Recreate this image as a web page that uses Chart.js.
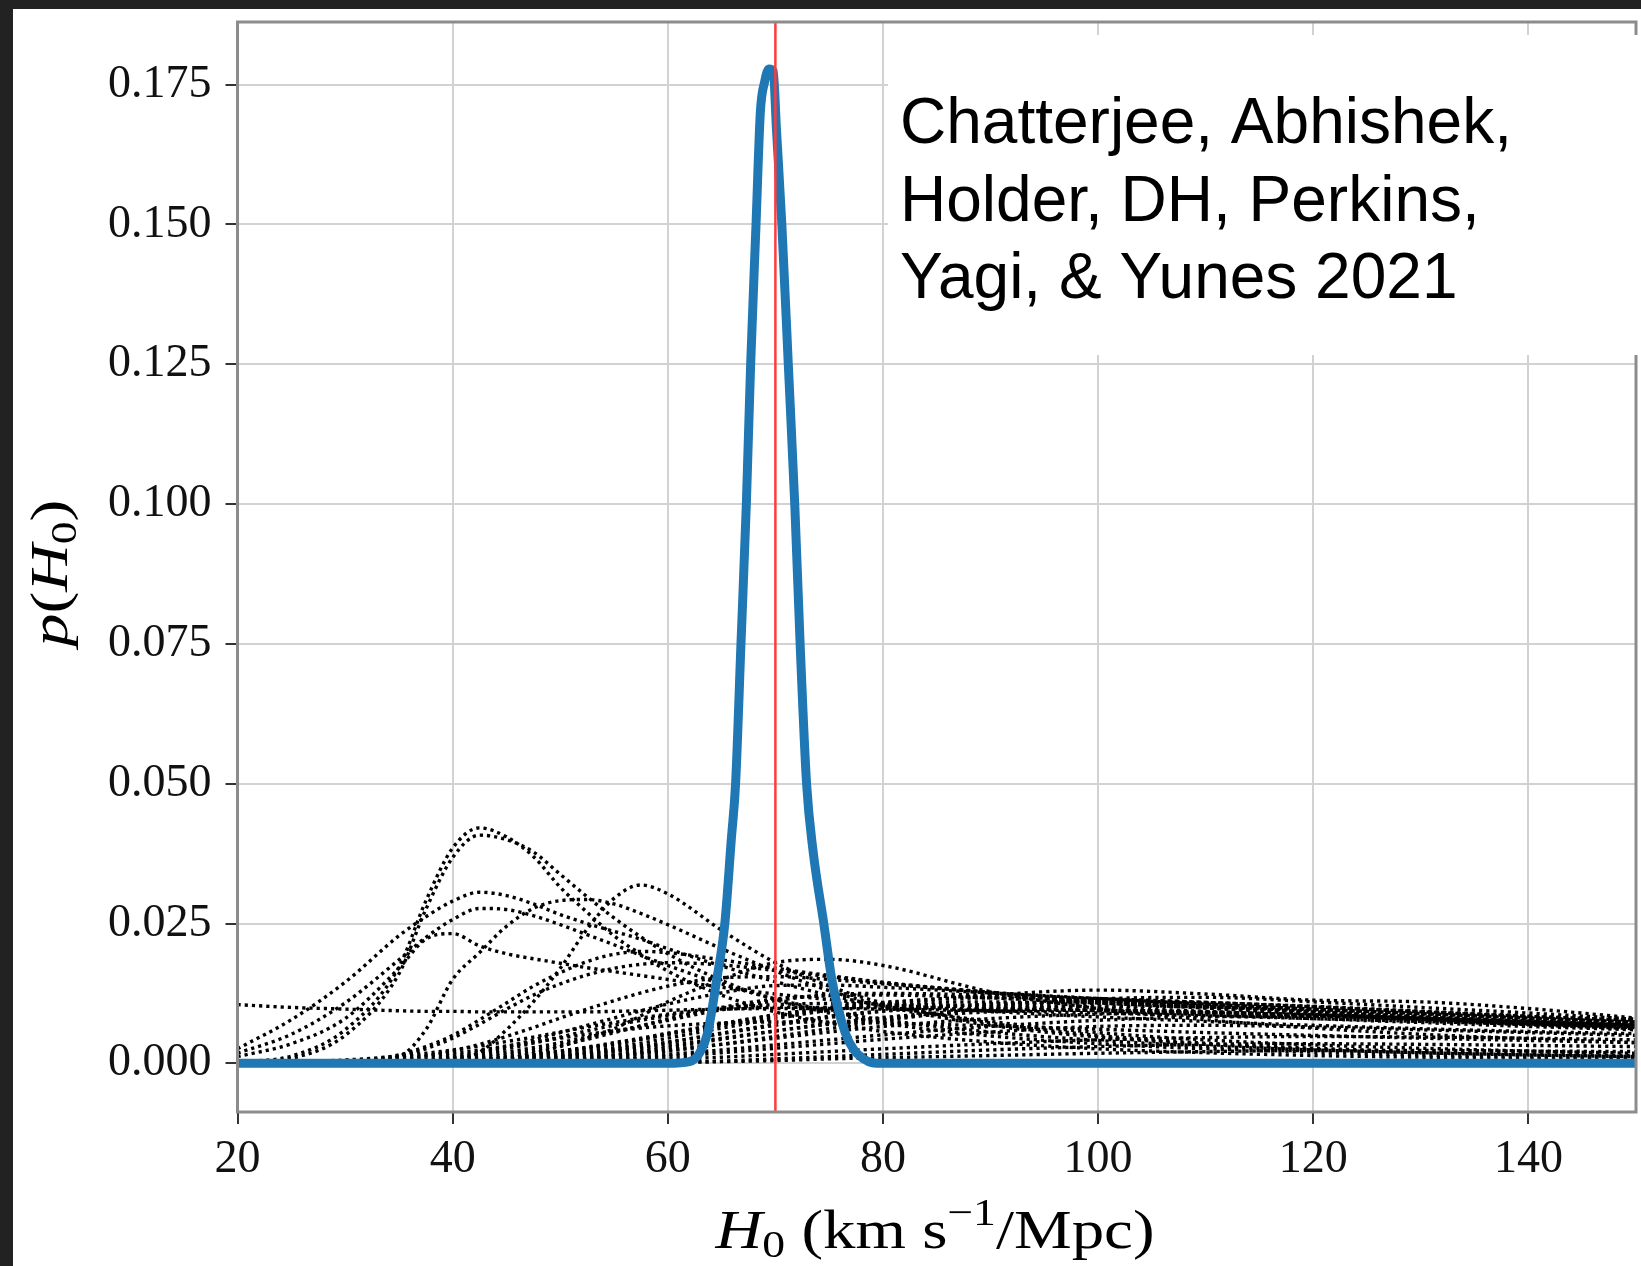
<!DOCTYPE html>
<html>
<head>
<meta charset="utf-8">
<title>H0 posteriors</title>
<script src="https://cdn.jsdelivr.net/npm/chart.js@4.4.1/dist/chart.umd.min.js"></script>
<style>
  html, body { margin: 0; padding: 0; background: #222222; }
  #frame { position: absolute; left: 13px; top: 9px; width: 1628px; height: 1257px; background: #ffffff; }
  canvas { display: block; }
</style>
</head>
<body>
<div id="frame"><canvas id="h0Chart" width="1628" height="1257"></canvas></div>
<script>
// H0 grid shared by the single-event posteriors (km/s/Mpc)
const hGrid = [20, 25, 30, 35, 37.5, 40, 42.5, 45, 47.5, 50, 52.5, 55, 57.5, 60, 65, 70, 75, 80, 90, 100, 110, 120, 130, 140, 150];

// single-event posteriors p(H0), one row per event (dotted black)
const eventPosteriors = [
  [0.0002, 0.0013, 0.0060, 0.0172, 0.0290, 0.0385, 0.0421, 0.0405, 0.0370, 0.0315, 0.0270, 0.0228, 0.0195, 0.0165, 0.0122, 0.0092, 0.0072, 0.0057, 0.0038, 0.0026, 0.0019, 0.0014, 0.0011, 0.0009, 0.0007],
  [0.0001, 0.0009, 0.0050, 0.0160, 0.0275, 0.0368, 0.0408, 0.0400, 0.0378, 0.0338, 0.0298, 0.0260, 0.0226, 0.0196, 0.0148, 0.0114, 0.0090, 0.0072, 0.0049, 0.0035, 0.0026, 0.0020, 0.0015, 0.0012, 0.0010],
  [0.0026, 0.0078, 0.0145, 0.0228, 0.0262, 0.0290, 0.0306, 0.0300, 0.0285, 0.0266, 0.0250, 0.0236, 0.0222, 0.0205, 0.0174, 0.0146, 0.0122, 0.0103, 0.0075, 0.0055, 0.0042, 0.0033, 0.0027, 0.0022, 0.0018],
  [0.0018, 0.0052, 0.0108, 0.0185, 0.0225, 0.0257, 0.0277, 0.0275, 0.0264, 0.0248, 0.0230, 0.0212, 0.0193, 0.0175, 0.0142, 0.0115, 0.0094, 0.0078, 0.0056, 0.0041, 0.0031, 0.0024, 0.0019, 0.0015, 0.0012],
  [0.0105, 0.0100, 0.0097, 0.0094, 0.0093, 0.0093, 0.0092, 0.0092, 0.0092, 0.0092, 0.0092, 0.0093, 0.0094, 0.0095, 0.0097, 0.0098, 0.0098, 0.0097, 0.0094, 0.0090, 0.0085, 0.0080, 0.0075, 0.0070, 0.0066],
  [0.0012, 0.0035, 0.0080, 0.0170, 0.0222, 0.0232, 0.0210, 0.0196, 0.0187, 0.0179, 0.0171, 0.0164, 0.0157, 0.0150, 0.0136, 0.0124, 0.0114, 0.0106, 0.0093, 0.0083, 0.0075, 0.0068, 0.0062, 0.0057, 0.0053],
  [0, 0, 0, 0.0012, 0.0060, 0.0150, 0.0198, 0.0245, 0.0277, 0.0291, 0.0293, 0.0285, 0.0268, 0.0248, 0.0205, 0.0165, 0.0130, 0.0103, 0.0068, 0.0047, 0.0034, 0.0025, 0.0019, 0.0015, 0.0012],
  [0, 0, 0, 0, 0, 0.0005, 0.0020, 0.0060, 0.0110, 0.0170, 0.0240, 0.0295, 0.0319, 0.0303, 0.0238, 0.0180, 0.0138, 0.0108, 0.0072, 0.0050, 0.0036, 0.0027, 0.0021, 0.0017, 0.0014],
  [0, 0, 0, 0, 0, 0, 0.0003, 0.0008, 0.0018, 0.0030, 0.0045, 0.0062, 0.0085, 0.0110, 0.0150, 0.0180, 0.0186, 0.0175, 0.0128, 0.0098, 0.0078, 0.0063, 0.0052, 0.0044, 0.0037],
  [0, 0, 0, 0, 0, 0.0001, 0.0003, 0.0006, 0.0010, 0.0015, 0.0021, 0.0028, 0.0036, 0.0045, 0.0063, 0.0080, 0.0095, 0.0107, 0.0122, 0.0131, 0.0124, 0.0113, 0.0110, 0.0098, 0.0081],
  [0, 0, 0.0003, 0.0015, 0.0030, 0.0050, 0.0078, 0.0108, 0.0138, 0.0162, 0.0182, 0.0195, 0.0200, 0.0198, 0.0185, 0.0170, 0.0157, 0.0145, 0.0127, 0.0112, 0.0099, 0.0088, 0.0078, 0.0069, 0.0062],
  [0, 0, 0.0002, 0.0012, 0.0026, 0.0045, 0.0070, 0.0097, 0.0122, 0.0142, 0.0158, 0.0170, 0.0177, 0.0180, 0.0176, 0.0166, 0.0155, 0.0144, 0.0126, 0.0113, 0.0102, 0.0092, 0.0083, 0.0075, 0.0068],
  [0, 0, 0.0001, 0.0006, 0.0013, 0.0022, 0.0034, 0.0048, 0.0064, 0.0081, 0.0097, 0.0112, 0.0126, 0.0138, 0.0153, 0.0155, 0.0150, 0.0142, 0.0127, 0.0114, 0.0103, 0.0093, 0.0084, 0.0076, 0.0069],
  [0, 0, 0, 0.0003, 0.0007, 0.0013, 0.0020, 0.0030, 0.0042, 0.0055, 0.0068, 0.0081, 0.0094, 0.0106, 0.0126, 0.0139, 0.0140, 0.0136, 0.0126, 0.0116, 0.0106, 0.0097, 0.0089, 0.0081, 0.0074],
  [0, 0, 0, 0.0002, 0.0004, 0.0008, 0.0013, 0.0020, 0.0028, 0.0037, 0.0047, 0.0057, 0.0067, 0.0077, 0.0096, 0.0112, 0.0123, 0.0125, 0.0122, 0.0116, 0.0109, 0.0101, 0.0092, 0.0084, 0.0077],
  [0, 0, 0, 0, 0.0002, 0.0004, 0.0007, 0.0011, 0.0016, 0.0022, 0.0029, 0.0037, 0.0045, 0.0054, 0.0071, 0.0087, 0.0100, 0.0109, 0.0117, 0.0115, 0.0109, 0.0101, 0.0093, 0.0085, 0.0078],
  [0, 0, 0, 0, 0, 0.0002, 0.0004, 0.0007, 0.0010, 0.0014, 0.0019, 0.0025, 0.0031, 0.0038, 0.0053, 0.0068, 0.0082, 0.0093, 0.0106, 0.0110, 0.0108, 0.0102, 0.0093, 0.0083, 0.0073],
  [0, 0, 0, 0, 0.0001, 0.0003, 0.0006, 0.0010, 0.0015, 0.0021, 0.0028, 0.0035, 0.0043, 0.0052, 0.0068, 0.0083, 0.0095, 0.0103, 0.0104, 0.0100, 0.0093, 0.0085, 0.0077, 0.0069, 0.0062],
  [0, 0, 0, 0, 0, 0.0001, 0.0003, 0.0005, 0.0008, 0.0012, 0.0016, 0.0021, 0.0026, 0.0032, 0.0045, 0.0058, 0.0070, 0.0080, 0.0092, 0.0095, 0.0092, 0.0086, 0.0079, 0.0071, 0.0064],
  [0, 0, 0, 0, 0, 0, 0.0001, 0.0003, 0.0005, 0.0008, 0.0011, 0.0015, 0.0019, 0.0024, 0.0034, 0.0045, 0.0056, 0.0066, 0.0080, 0.0088, 0.0090, 0.0087, 0.0081, 0.0074, 0.0067],
  [0, 0, 0, 0, 0, 0, 0, 0.0001, 0.0002, 0.0004, 0.0006, 0.0009, 0.0012, 0.0016, 0.0024, 0.0033, 0.0042, 0.0051, 0.0066, 0.0077, 0.0083, 0.0084, 0.0080, 0.0074, 0.0068],
  [0, 0, 0, 0, 0, 0, 0, 0, 0.0001, 0.0002, 0.0004, 0.0006, 0.0009, 0.0012, 0.0019, 0.0027, 0.0035, 0.0043, 0.0056, 0.0066, 0.0068, 0.0065, 0.0060, 0.0055, 0.0050],
  [0, 0, 0, 0, 0, 0, 0, 0, 0, 0.0001, 0.0002, 0.0003, 0.0005, 0.0007, 0.0011, 0.0016, 0.0021, 0.0026, 0.0035, 0.0042, 0.0046, 0.0048, 0.0047, 0.0045, 0.0042],
  [0, 0, 0, 0, 0, 0, 0, 0, 0, 0, 0, 0, 0.0001, 0.0002, 0.0004, 0.0008, 0.0012, 0.0016, 0.0024, 0.0030, 0.0034, 0.0035, 0.0034, 0.0032, 0.0030],
  [0, 0, 0, 0, 0, 0, 0, 0, 0, 0, 0, 0, 0, 0.0001, 0.0003, 0.0005, 0.0008, 0.0010, 0.0014, 0.0018, 0.0021, 0.0023, 0.0023, 0.0022, 0.0021],
  [0, 0, 0, 0, 0.0002, 0.0005, 0.0009, 0.0015, 0.0023, 0.0032, 0.0043, 0.0055, 0.0067, 0.0079, 0.0100, 0.0115, 0.0121, 0.0122, 0.0117, 0.0108, 0.0099, 0.0090, 0.0082, 0.0074, 0.0067],
  [0, 0, 0, 0, 0, 0.0002, 0.0004, 0.0008, 0.0013, 0.0019, 0.0026, 0.0034, 0.0043, 0.0052, 0.0070, 0.0086, 0.0098, 0.0106, 0.0110, 0.0107, 0.0101, 0.0094, 0.0087, 0.0080, 0.0073],
  [0, 0, 0, 0.0002, 0.0005, 0.0010, 0.0017, 0.0026, 0.0036, 0.0047, 0.0058, 0.0068, 0.0077, 0.0085, 0.0096, 0.0100, 0.0100, 0.0099, 0.0097, 0.0095, 0.0091, 0.0086, 0.0080, 0.0074, 0.0068],
  [0, 0, 0, 0, 0, 0, 0.0001, 0.0002, 0.0004, 0.0006, 0.0009, 0.0013, 0.0017, 0.0022, 0.0034, 0.0048, 0.0062, 0.0076, 0.0100, 0.0115, 0.0118, 0.0110, 0.0100, 0.0090, 0.0079],
  [0, 0.0002, 0.0006, 0.0013, 0.0018, 0.0024, 0.0031, 0.0039, 0.0047, 0.0056, 0.0065, 0.0073, 0.0081, 0.0088, 0.0099, 0.0105, 0.0107, 0.0106, 0.0101, 0.0094, 0.0087, 0.0080, 0.0073, 0.0066, 0.0060],
  [0, 0.0001, 0.0004, 0.0009, 0.0013, 0.0018, 0.0024, 0.0031, 0.0038, 0.0045, 0.0052, 0.0058, 0.0063, 0.0067, 0.0072, 0.0074, 0.0074, 0.0072, 0.0067, 0.0061, 0.0055, 0.0050, 0.0045, 0.0041, 0.0037],
  [0, 0, 0, 0, 0, 0, 0, 0.0001, 0.0003, 0.0006, 0.0010, 0.0015, 0.0021, 0.0028, 0.0043, 0.0058, 0.0071, 0.0082, 0.0096, 0.0102, 0.0101, 0.0096, 0.0089, 0.0081, 0.0072],
  [0, 0, 0, 0, 0, 0.0001, 0.0002, 0.0004, 0.0007, 0.0011, 0.0016, 0.0022, 0.0029, 0.0037, 0.0054, 0.0070, 0.0084, 0.0094, 0.0105, 0.0108, 0.0104, 0.0097, 0.0089, 0.0080, 0.0071]
];

// combined posterior (thick blue)
const combinedH = [20, 30, 40, 50, 60, 62.0, 63.0, 63.7, 64.5, 65.3, 65.9, 66.3, 66.8, 67.3, 67.7, 68.2, 68.6, 69.0, 69.4, 69.8, 70.1, 70.6, 71.2, 71.8, 72.3, 72.9, 73.5, 74.5, 75.3, 76.5, 77.3, 78.2, 79.0, 80, 90, 100, 110, 120, 130, 140, 150];
const combinedP = [0, 0, 0, 0, 0, 0.0003, 0.0020, 0.0054, 0.0144, 0.0250, 0.0400, 0.0500, 0.0750, 0.1000, 0.1250, 0.1500, 0.1700, 0.1755, 0.1778, 0.1774, 0.1670, 0.1500, 0.1250, 0.1000, 0.0750, 0.0500, 0.0380, 0.0250, 0.0144, 0.0054, 0.0024, 0.0008, 0.0001, 0, 0, 0, 0, 0, 0, 0, 0];

// injected value (red vertical line)
const trueH0 = 70;

// axes
const xRange = [20, 150];
const yRange = [-0.0087, 0.1862];
const xTickValues = [20, 40, 60, 80, 100, 120, 140];
const yTickValues = [0, 0.025, 0.05, 0.075, 0.1, 0.125, 0.15, 0.175];

const creditLines = ["Chatterjee, Abhishek,", "Holder, DH, Perkins,", "Yagi, & Yunes 2021"];

const SERIF = '"Liberation Serif", "Times New Roman", serif';
const SANS = '"Liberation Sans", Arial, Helvetica, sans-serif';

// draw a run of text pieces (italic / sub / superscript) centred on 0, baseline 0
function drawPieces(ctx, pieces, size, targetWidth) {
  const fontFor = p => `${p.italic ? 'italic ' : ''}${Math.round(size * (p.rel || 1))}px ${SERIF}`;
  let total = 0;
  pieces.forEach(p => { ctx.font = fontFor(p); p.w = ctx.measureText(p.text).width; total += p.w; });
  const sx = targetWidth / total;
  ctx.scale(sx, 1);
  let x = -total / 2;
  ctx.textBaseline = 'alphabetic';
  ctx.textAlign = 'left';
  pieces.forEach(p => {
    ctx.font = fontFor(p);
    ctx.fillText(p.text, x, (p.dy || 0) * size);
    x += p.w;
  });
}

const decorPlugin = {
  id: 'decor',
  afterDraw(chart) {
    const { ctx, chartArea: a } = chart;
    ctx.save();
    // axes frame
    ctx.strokeStyle = '#8c8c8c';
    ctx.lineWidth = 3;
    ctx.strokeRect(a.left, a.top, a.right - a.left, a.bottom - a.top);

    // credit box
    ctx.fillStyle = '#ffffff';
    ctx.fillRect(875, 26, 760, 320);
    ctx.fillStyle = '#000000';
    ctx.font = `64px ${SANS}`;
    ctx.textAlign = 'left';
    ctx.textBaseline = 'alphabetic';
    creditLines.forEach((line, i) => ctx.fillText(line, 887, 134 + i * 77.5));

    // x axis title
    ctx.fillStyle = '#000000';
    ctx.save();
    ctx.translate(922, 1239);
    drawPieces(ctx, [
      { text: 'H', italic: true },
      { text: '0', rel: 0.7, dy: 0.17 },
      { text: ' (km s' },
      { text: '\u22121', rel: 0.7, dy: -0.42 },
      { text: '/Mpc)' }
    ], 54, 439);
    ctx.restore();

    // y axis title
    ctx.save();
    ctx.translate(54, 564);
    ctx.rotate(-Math.PI / 2);
    drawPieces(ctx, [
      { text: 'p', italic: true },
      { text: '(' },
      { text: 'H', italic: true },
      { text: '0', rel: 0.7, dy: 0.17 },
      { text: ')' }
    ], 52, 147);
    ctx.restore();

    ctx.restore();
  }
};

const datasets = [];

datasets.push({
  label: 'true H0',
  data: [{ x: trueH0, y: yRange[0] }, { x: trueH0, y: yRange[1] }],
  borderColor: '#ff3b3b',
  borderWidth: 2.5,
  pointRadius: 0,
  order: 0
});

datasets.push({
  label: 'combined',
  data: combinedH.map((h, i) => ({ x: h, y: combinedP[i] })),
  borderColor: '#1f77b4',
  borderWidth: 9,
  borderJoinStyle: 'round',
  borderCapStyle: 'round',
  pointRadius: 0,
  cubicInterpolationMode: 'monotone',
  order: 1
});

eventPosteriors.forEach((row, k) => {
  datasets.push({
    label: 'event ' + (k + 1),
    data: hGrid.map((h, i) => ({ x: h, y: row[i] })),
    borderColor: '#000000',
    borderWidth: 3.4,
    borderDash: [3.2, 4],
    pointRadius: 0,
    cubicInterpolationMode: 'monotone',
    order: 2
  });
});

new Chart(document.getElementById('h0Chart'), {
  type: 'line',
  data: { datasets },
  options: {
    responsive: false,
    devicePixelRatio: 1,
    animation: false,
    layout: { padding: { top: 13, right: 5, left: 0, bottom: 0 } },
    plugins: { legend: { display: false }, tooltip: { enabled: false } },
    scales: {
      x: {
        type: 'linear',
        position: 'bottom',
        min: xRange[0],
        max: xRange[1],
        afterFit: s => { s.height = 154; s.paddingLeft = 0; s.paddingRight = 0; },
        afterBuildTicks: s => { s.ticks = xTickValues.map(v => ({ value: v })); },
        border: { display: false },
        grid: { color: '#d2d2d2', lineWidth: 2, drawTicks: true, tickLength: 12, tickColor: '#333333', tickWidth: 2 },
        ticks: {
          font: { family: SERIF, size: 46 },
          color: '#111111',
          padding: 8,
          maxRotation: 0,
          minRotation: 0,
          autoSkip: false,
          callback: v => String(v)
        }
      },
      y: {
        type: 'linear',
        min: yRange[0],
        max: yRange[1],
        afterFit: s => { s.width = 224.5; s.paddingTop = 0; s.paddingBottom = 0; },
        afterBuildTicks: s => { s.ticks = yTickValues.map(v => ({ value: v })); },
        border: { display: false },
        grid: { color: '#d2d2d2', lineWidth: 2, drawTicks: true, tickLength: 12, tickColor: '#333333', tickWidth: 2 },
        ticks: {
          font: { family: SERIF, size: 46 },
          color: '#111111',
          padding: 14,
          autoSkip: false,
          callback: v => v.toFixed(3)
        }
      }
    }
  },
  plugins: [decorPlugin]
});
</script>
</body>
</html>
